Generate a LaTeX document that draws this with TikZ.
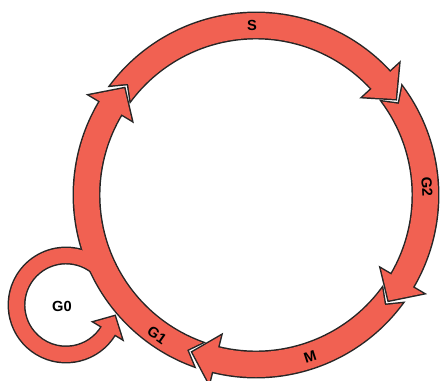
\documentclass[tikz,border=0pt]{standalone}
\usepackage{fontspec}
\setsansfont{Liberation Sans}

\definecolor{phasered}{RGB}{241,97,82}

% radii of the cell-cycle band
\newcommand\rout{182}
\newcommand\rin{157}
\newcommand\rmid{169.5}
% one curved phase arrow, clockwise from tail angle #1 to tip angle #2
\newcommand\phasearrow[2]{%
  (#1:\rout) arc[start angle=#1, end angle=#2+8, radius=\rout]
  -- (#2+8:\rout+12) -- (#2:\rmid) -- (#2+8:\rin-12) -- (#2+8:\rin)
  arc[start angle=#2+8, end angle=#1, radius=\rin]
  -- (#1-4:\rmid) -- cycle}
% all arrow shapes, painted with style #1
\newcommand\cycleshapes[1]{%
  \begin{scope}[shift={(256,185)}]
    \foreach \tail/\tip in {143/34.5, 36.5/-38.5, -36.5/-112, 250/141}
      \path[#1] \phasearrow{\tail}{\tip};
  \end{scope}
  % G0 side loop, leaves the G1 band and turns back to it
  \begin{scope}[shift={(66,75)}]
    \path[#1] (40:42) arc[start angle=40, end angle=329, radius=42]
      -- (329:33) -- (347:50) -- (329:65) -- (329:57)
      arc[start angle=329, end angle=40, radius=57] -- cycle;
  \end{scope}}

\begin{document}
\begin{tikzpicture}[scale=0.03,
  font=\sffamily\bfseries\fontsize{12.5}{14}\selectfont,
  outline/.style={draw=black!85, line width=2.5pt},
  body/.style={fill=phasered},
  phase/.style={inner sep=0pt}]

\useasboundingbox (0,0) rectangle (441,380);

% =================================================================
% arrows: outlines first, then fills, so the G0 loop joins G1 cleanly
% =================================================================
\cycleshapes{outline}
\cycleshapes{body}

% =================================================================
% phase labels
% =================================================================
\node[phase]              (s)  at (252,355) {S};
\node[phase, rotate=-87]  (g2) at (427,193) {G2};
\node[phase, rotate=18]   (m)  at (310,23)  {M};
\node[phase, rotate=-35]  (g1) at (157,45)  {G1};
\node[phase]              (g0) at (62,74)   {G0};

\end{tikzpicture}
\end{document}
